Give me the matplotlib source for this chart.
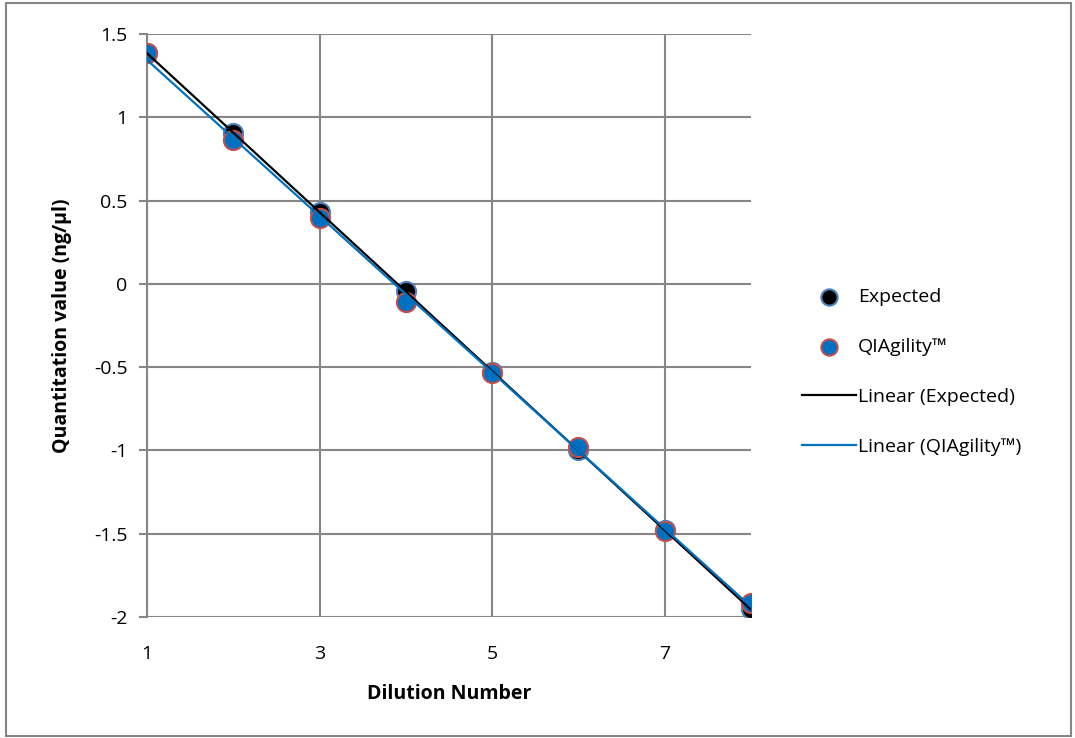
import numpy as np
import matplotlib.pyplot as plt
from matplotlib.ticker import FixedLocator, MultipleLocator, FormatStrFormatter
from matplotlib.patches import Rectangle

plt.rcParams['font.family'] = ['Open Sans', 'DejaVu Sans']
plt.rcParams['axes.unicode_minus'] = False

dilution = [1, 2, 3, 4, 5, 6, 7, 8]
expected = [1.386, 0.906, 0.43, -0.045, -0.53, -0.997, -1.48, -1.955]
qiagility = [1.385, 0.864, 0.396, -0.108, -0.535, -0.98, -1.483, -1.915]
x_ticks = [1, 3, 5, 7]

fig = plt.figure(figsize=(10.75, 7.38), dpi=100)
ax = fig.add_axes([0.1367, 0.164, 0.5619, 0.79])

grid_c = '#868686'

# trendlines (least squares)
x = np.array(dilution)
fit_e = np.polyfit(x, expected, 1)
fit_q = np.polyfit(x, qiagility, 1)
xl = np.array([1, 8])

ax.scatter(dilution, expected, s=190, color='black', edgecolors='#4F81BD',
           linewidths=1.5, zorder=3, label='Expected')
ax.scatter(dilution, qiagility, s=190, color='#0070C0', edgecolors='#C0504D',
           linewidths=1.5, zorder=4, label='QIAgility™')
ax.plot(xl, np.polyval(fit_e, xl), color='black', lw=1.6, zorder=5,
        label='Linear (Expected)')
ax.plot(xl, np.polyval(fit_q, xl), color='#0070C0', lw=1.6, zorder=5,
        label='Linear (QIAgility™)')

ax.set_xlim(1, 8)
ax.set_ylim(-2, 1.5)
ax.xaxis.set_major_locator(FixedLocator(x_ticks))
ax.yaxis.set_major_locator(MultipleLocator(0.5))
ax.yaxis.set_major_formatter(FormatStrFormatter('%g'))
ax.grid(True, color=grid_c, lw=1.5)
ax.set_axisbelow(True)
for side in ['top', 'right', 'bottom']:
    ax.spines[side].set_visible(False)
ax.spines['left'].set_color(grid_c)
ax.spines['left'].set_linewidth(1.5)
ax.tick_params(axis='y', length=6, color=grid_c, width=1.5, labelsize=14, pad=8)
ax.tick_params(axis='x', length=0, labelsize=14, pad=20)

ax.set_xlabel('Dilution Number', fontsize=14, fontweight='bold', labelpad=15)
ax.set_ylabel('Quantitation value (ng/µl)', fontsize=14, fontweight='bold', labelpad=16)

ax.legend(loc='center left', bbox_to_anchor=(1.055, 0.42), frameon=False,
          fontsize=14, handlelength=2.8, labelspacing=1.65, handletextpad=0.1,
          markerscale=0.85)

fig.add_artist(Rectangle((0.006, 0.003), 0.99, 0.993, transform=fig.transFigure,
                         fill=False, edgecolor='#868686', lw=1.5))

fig.savefig('out.png')
